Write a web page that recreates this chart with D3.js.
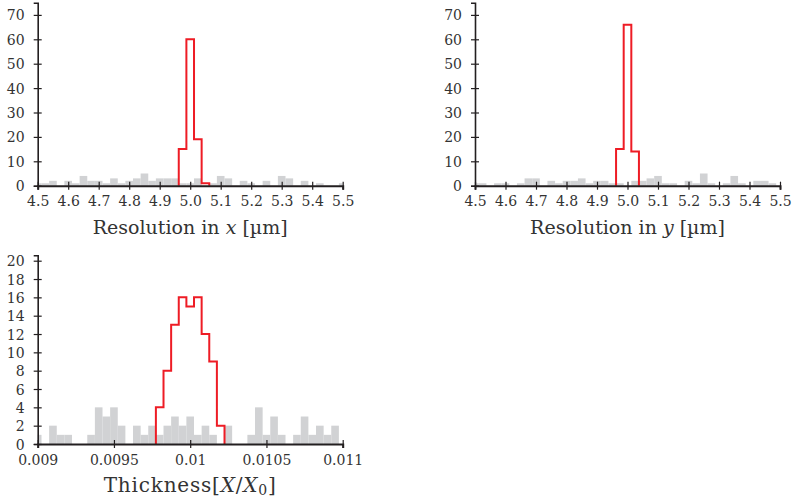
<!DOCTYPE html>
<html><head><meta charset="utf-8">
<script src="https://cdn.jsdelivr.net/npm/d3@7"></script>
<style>
html,body{margin:0;padding:0;background:#fff;}
svg{display:block;}
svg text{font-family:"DejaVu Serif","Liberation Serif",serif !important;fill:#333;}
</style></head>
<body>
<svg id="chart" width="792" height="499"></svg>
<script>
// ---- data ----
const resTicks = [4.5,4.6,4.7,4.8,4.9,5.0,5.1,5.2,5.3,5.4,5.5];
const resTickLabels = ["4.5","4.6","4.7","4.8","4.9","5.0","5.1","5.2","5.3","5.4","5.5"];
const resBinWidth = 0.025;
const resGrayFirstCenter = 4.5;
const resXGray = [1,1,2,0,2,1,4,2,2,1,3,1,2,3,5,2,3,3,3,1,1,3,0,1,4,3,0,2,1,0,2,0,4,3,0,2,0,1,0,0,1];
const resYGray = [1,1,0,1,1,0,1,3,3,0,2,1,2,2,3,1,2,2,1,1,0,2,2,3,4,1,1,0,2,1,5,1,0,1,4,1,0,2,2,1,0];
const resRedCenters = [4.975,5.0,5.025,5.05];
const resXRed = [15,60,19,1];
const resYRedCenters = [4.975,5.0,5.025];
const resYRed = [15,66,14];
const resYTicks = [0,10,20,30,40,50,60,70];

const thkTicks = [0.009,0.0095,0.01,0.0105,0.011];
const thkTickLabels = ["0.009","0.0095","0.01","0.0105","0.011"];
const thkBinWidth = 0.00005;
const thkGrayFirstCenter = 0.009;
const thkGray = [1,0,2,1,1,0,0,1,4,3,4,2,0,2,1,2,1,2,3,2,3,1,2,1,0,2,0,0,1,4,1,3,1,0,1,3,1,2,1,2,0];
const thkRedCenters = [0.0098,0.00985,0.0099,0.00995,0.01,0.01005,0.0101,0.01015,0.0102];
const thkRed = [4,8,13,16,15,16,12,9,2];
const thkYTicks = [0,2,4,6,8,10,12,14,16,18,20];

// ---- styles ----
const GRAY = "#d1d2d4", RED = "#ee1c25", AXIS = "#231f20";
const FONT = "'DejaVu Serif','Liberation Serif',serif";

const svg = d3.select("#chart");

function panel(opt){
  const g = svg.append("g");
  const x = d3.scaleLinear().domain(opt.xDomain).range(opt.xRange);
  const y = d3.scaleLinear().domain(opt.yDomain).range(opt.yRange);
  const [dx0, dx1] = opt.xDomain;
  const w = opt.binWidth;
  const grayBins = opt.gray.map((v,i)=>({c: opt.grayFirst + i*w, v}));
  g.selectAll("rect.g").data(grayBins.filter(d=>d.v>0)).join("rect")
    .attr("x", d=>x(Math.max(d.c-w/2,dx0)))
    .attr("width", d=>x(Math.min(d.c+w/2,dx1))-x(Math.max(d.c-w/2,dx0)))
    .attr("y", d=>y(d.v))
    .attr("height", d=>y(0)-y(d.v))
    .attr("fill", GRAY);
  const pts = [];
  opt.redCenters.forEach((c,i)=>{
    pts.push([c-w/2, opt.red[i]]);
    pts.push([c+w/2, opt.red[i]]);
  });
  const first = opt.redCenters[0]-w/2, last = opt.redCenters[opt.redCenters.length-1]+w/2;
  const all = [[first,0]].concat(pts).concat([[last,0]]);
  g.append("path")
    .attr("d", d3.line().x(d=>x(d[0])).y(d=>y(d[1]))(all))
    .attr("fill","none").attr("stroke",RED).attr("stroke-width",2).attr("stroke-linejoin","miter");
  const ya = g.append("g").attr("transform",`translate(${opt.xRange[0]},0)`)
    .call(d3.axisLeft(y).tickValues(opt.yTicks).tickSizeOuter(0).tickSize(4).tickPadding(9));
  ya.attr("font-family",FONT);
  ya.select(".domain").attr("stroke",AXIS).attr("stroke-width",1.6);
  ya.selectAll(".tick line").attr("x1",4).attr("stroke",AXIS).attr("stroke-width",1.2);
  ya.selectAll(".tick text").style("font-family",FONT).style("font-size",opt.tickFont+"px").attr("fill","#333").attr("dy","0.36em");
  const xa = g.append("g").attr("transform",`translate(0,${opt.yRange[0]})`)
    .call(d3.axisBottom(x).tickValues(opt.xTicks).tickFormat((d,i)=>opt.xTickLabels[i]).tickSizeOuter(0).tickSize(4).tickPadding(7));
  xa.attr("font-family",FONT);
  xa.select(".domain").attr("stroke",AXIS).attr("stroke-width",2);
  xa.selectAll(".tick line").attr("y1",-4).attr("stroke",AXIS).attr("stroke-width",1.2);
  xa.selectAll(".tick text").style("font-family",FONT).style("font-size",opt.tickFont+"px").attr("fill","#333").attr("dy","0.7em");
  const t = g.append("text").attr("x",(opt.xRange[0]+opt.xRange[1])/2).attr("y",opt.titleY)
    .attr("text-anchor","middle").style("font-family",FONT).style("font-size",opt.titleFont+"px")
    .style("letter-spacing",opt.titleSpacing+"px");
  opt.title(t);
}

const res = (t, v)=>{ t.append("tspan").text("Resolution in ");
  t.append("tspan").attr("font-style","italic").text(v);
  t.append("tspan").text(" [µm]"); };

panel({xDomain:[4.5,5.5], xRange:[37.7,342.7], yDomain:[0,75], yRange:[185.7,2.7],
  binWidth:resBinWidth, grayFirst:resGrayFirstCenter, gray:resXGray, redCenters:resRedCenters, red:resXRed,
  yTicks:resYTicks, xTicks:resTicks, xTickLabels:resTickLabels, tickFont:14, titleFont:19, titleSpacing:0, titleY:234, title:t=>res(t,"x")});
panel({xDomain:[4.5,5.5], xRange:[475,780], yDomain:[0,75], yRange:[185.7,2.7],
  binWidth:resBinWidth, grayFirst:resGrayFirstCenter, gray:resYGray, redCenters:resYRedCenters, red:resYRed,
  yTicks:resYTicks, xTicks:resTicks, xTickLabels:resTickLabels, tickFont:14, titleFont:19, titleSpacing:0, titleY:234, title:t=>res(t,"y")});
panel({xDomain:[0.009,0.011], xRange:[37.7,342.7], yDomain:[0,20.6], yRange:[444,255.2],
  binWidth:thkBinWidth, grayFirst:thkGrayFirstCenter, gray:thkGray, redCenters:thkRedCenters, red:thkRed,
  yTicks:thkYTicks, xTicks:thkTicks, xTickLabels:thkTickLabels, tickFont:14, titleFont:20, titleSpacing:0.8, titleY:492,
  title:t=>{ t.append("tspan").text("Thickness[");
    t.append("tspan").attr("font-style","italic").text("X");
    t.append("tspan").text("/");
    t.append("tspan").attr("font-style","italic").text("X");
    t.append("tspan").attr("dy","3").style("font-size","14px").text("0");
    t.append("tspan").attr("dy","-3").text("]"); }});
</script>
</body></html>
